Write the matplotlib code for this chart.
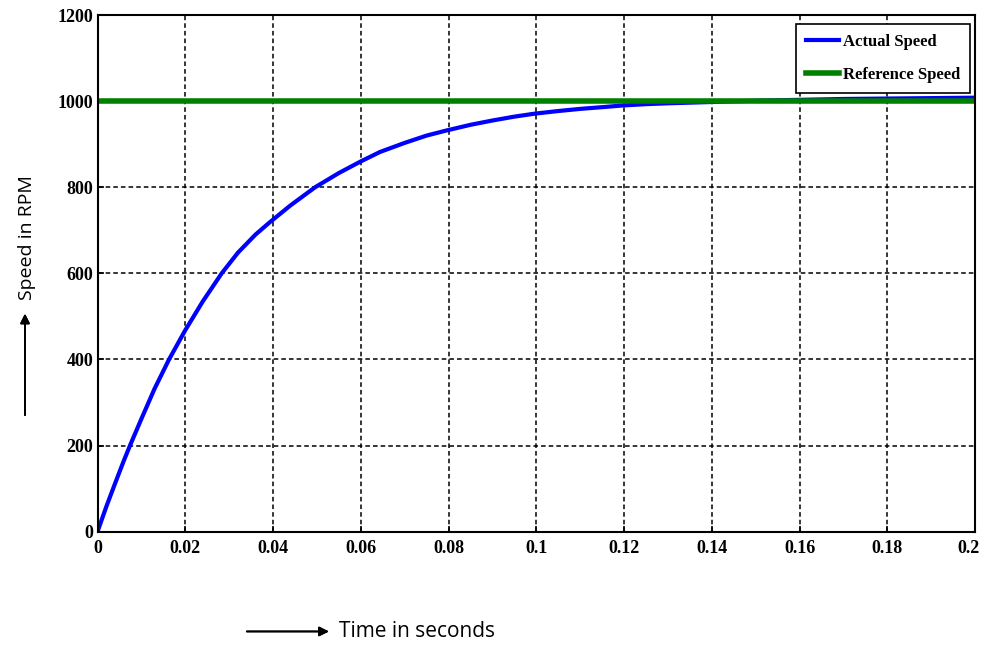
import numpy as np
import matplotlib.pyplot as plt
from matplotlib.transforms import ScaledTranslation

# values
t = [0, 0.002, 0.004, 0.006, 0.0074, 0.01, 0.013, 0.0163, 0.02, 0.024, 0.0283,
     0.032, 0.036, 0.0393, 0.044, 0.0496, 0.055, 0.06, 0.0644, 0.07, 0.075,
     0.0796, 0.085, 0.09, 0.095, 0.0997, 0.105, 0.11, 0.115, 0.1198, 0.125,
     0.13, 0.14, 0.15, 0.16, 0.17, 0.18, 0.19, 0.2]
actual_speed = [0, 58, 112, 165, 200, 262, 332, 400, 468, 535, 600,
                648, 690, 719, 758, 800, 833, 860, 882, 903, 920,
                932, 945, 955, 964, 971, 977, 982, 986, 990, 993,
                995, 998, 1001, 1003, 1005, 1006, 1007, 1008]
ref_t = [0, 0.2]
ref_speed = [1000, 1000]

xticks = [0, 0.02, 0.04, 0.06, 0.08, 0.1, 0.12, 0.14, 0.16, 0.18, 0.2]
xticklabels = ['0', '0.02', '0.04', '0.06', '0.08', '0.1', '0.12', '0.14', '0.16', '0.18', '0.2']
yticks = [0, 200, 400, 600, 800, 1000, 1200]

serif = {'family': 'Liberation Serif', 'weight': 'bold', 'size': 13}

fig = plt.figure(figsize=(9.84, 6.45), dpi=100)
ax = fig.add_axes([0.0991, 0.1757, 0.8918, 0.801])

ax.plot(t, actual_speed, color='#0000ff', lw=3, label='Actual Speed')
ax.plot(ref_t, ref_speed, color='#008000', lw=4, label='Reference Speed')

ax.set_xlim(0, 0.2)
ax.set_ylim(0, 1200)
ax.set_xticks(xticks)
ax.set_xticklabels(xticklabels, fontdict=serif)
ax.set_yticks(yticks)
ax.set_yticklabels([str(v) for v in yticks], fontdict=serif)
ax.tick_params(direction='in', length=4, width=1.2, pad=6, colors='black')
ax.tick_params(axis='y', pad=3)
for s in ax.spines.values():
    s.set_linewidth(1.5)
    s.set_color('black')
ax.grid(True, color='black', linestyle=(0, (3, 2)), linewidth=1.1)

# nudge the last x label so it stays inside the figure
last = ax.get_xticklabels()[-1]
last.set_transform(last.get_transform() + ScaledTranslation(-5 / 72, 0, fig.dpi_scale_trans))

leg = ax.legend(loc='upper right', bbox_to_anchor=(0.9943, 0.9826),
                prop={'family': 'Liberation Serif', 'weight': 'bold', 'size': 12},
                handlelength=2.0, handletextpad=0.2, borderpad=0.6,
                labelspacing=1.0, borderaxespad=0.0,
                fancybox=False, framealpha=1, edgecolor='black')
leg.get_frame().set_linewidth(1.2)

# axis labels with arrows, as in the original
fig.text(0.027, 0.632, 'Speed in RPM', rotation=90, ha='center', va='center',
         fontsize=14, family='Open Sans')
fig.add_artist(plt.annotate('', xy=(0.0254, 0.518), xytext=(0.0254, 0.352),
                            xycoords='figure fraction',
                            arrowprops=dict(arrowstyle='-|>', color='black', lw=1.3,
                                            mutation_scale=14)))
fig.text(0.345, 0.021, 'Time in seconds', ha='left', va='center',
         fontsize=15, family='Open Sans')
fig.add_artist(plt.annotate('', xy=(0.337, 0.021), xytext=(0.248, 0.021),
                            xycoords='figure fraction',
                            arrowprops=dict(arrowstyle='-|>', color='black', lw=1.3,
                                            mutation_scale=14)))

fig.savefig('out.png', dpi=100)
